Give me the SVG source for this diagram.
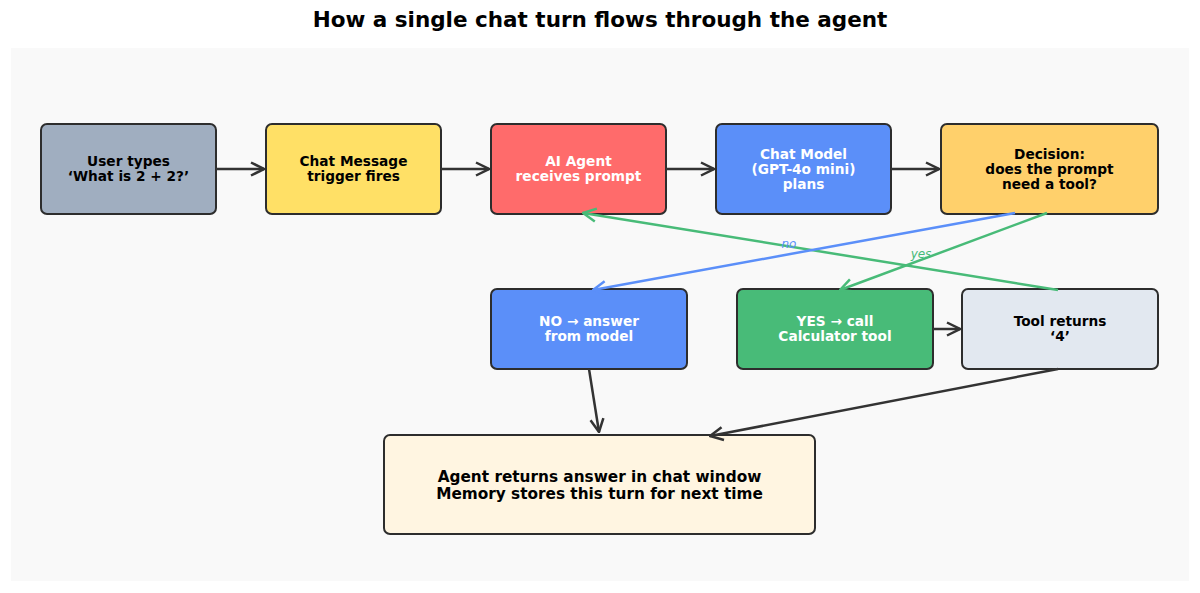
<svg xmlns="http://www.w3.org/2000/svg" width="1200" height="593" viewBox="0 0 1200 593">
<defs>
<style>
.box{stroke:#2d2d2d;stroke-width:2}
.t{font-family:"DejaVu Sans",sans-serif;font-weight:bold;font-size:13.7px;text-anchor:middle}
.big{font-size:15.3px}
.w{fill:#ffffff}
.k{fill:#000000}
.c{fill:none;stroke-width:2.5}
.dark{stroke:#333333}
.blue{stroke:#5b8ff9}
.green{stroke:#48bb78}
.lbl{font-family:"DejaVu Sans",sans-serif;font-style:italic;font-size:12px;text-anchor:middle}
</style>
<marker id="ad" viewBox="0 0 16 16" refX="15" refY="8" markerWidth="16" markerHeight="16" markerUnits="userSpaceOnUse" orient="auto"><path d="M2,1.5 L15,8 L2,14.5" fill="none" stroke="#333333" stroke-width="2.5"/></marker>
<marker id="ab" viewBox="0 0 16 16" refX="15" refY="8" markerWidth="16" markerHeight="16" markerUnits="userSpaceOnUse" orient="auto"><path d="M2,1.5 L15,8 L2,14.5" fill="none" stroke="#5b8ff9" stroke-width="2.5"/></marker>
<marker id="ag" viewBox="0 0 16 16" refX="15" refY="8" markerWidth="16" markerHeight="16" markerUnits="userSpaceOnUse" orient="auto"><path d="M2,1.5 L15,8 L2,14.5" fill="none" stroke="#48bb78" stroke-width="2.5"/></marker>
</defs>
<rect x="0" y="0" width="1200" height="593" fill="#ffffff"/>
<text x="600" y="27" font-family="DejaVu Sans, sans-serif" font-weight="bold" font-size="21.5" text-anchor="middle">How a single chat turn flows through the agent</text>
<rect x="11" y="48" width="1178" height="533" fill="#f9f9f9"/>

<g id="user">
<rect class="box" x="41" y="124" width="175" height="90" rx="6" fill="#a0aec0"/>
<text class="t k" x="128.5" y="166">User types</text>
<text class="t k" x="128.5" y="181">‘What is 2 + 2?’</text>
</g>
<g id="trigger">
<rect class="box" x="266" y="124" width="175" height="90" rx="6" fill="#ffe066"/>
<text class="t k" x="353.5" y="166">Chat Message</text>
<text class="t k" x="353.5" y="181">trigger fires</text>
</g>
<g id="agent">
<rect class="box" x="491" y="124" width="175" height="90" rx="6" fill="#ff6b6b"/>
<text class="t w" x="578.5" y="166">AI Agent</text>
<text class="t w" x="578.5" y="181">receives prompt</text>
</g>
<g id="model">
<rect class="box" x="716" y="124" width="175" height="90" rx="6" fill="#5b8ff9"/>
<text class="t w" x="803.5" y="159">Chat Model</text>
<text class="t w" x="803.5" y="174">(GPT-4o mini)</text>
<text class="t w" x="803.5" y="189">plans</text>
</g>
<g id="decision">
<rect class="box" x="941" y="124" width="217" height="90" rx="6" fill="#ffd06b"/>
<text class="t k" x="1049.5" y="159">Decision:</text>
<text class="t k" x="1049.5" y="174">does the prompt</text>
<text class="t k" x="1049.5" y="189">need a tool?</text>
</g>
<g id="no">
<rect class="box" x="491" y="289" width="196" height="80" rx="6" fill="#5b8ff9"/>
<text class="t w" x="589" y="326">NO → answer</text>
<text class="t w" x="589" y="341">from model</text>
</g>
<g id="yes">
<rect class="box" x="737" y="289" width="196" height="80" rx="6" fill="#48bb78"/>
<text class="t w" x="835" y="326">YES → call</text>
<text class="t w" x="835" y="341">Calculator tool</text>
</g>
<g id="tool">
<rect class="box" x="962" y="289" width="196" height="80" rx="6" fill="#e2e8f0"/>
<text class="t k" x="1060" y="326">Tool returns</text>
<text class="t k" x="1060" y="341">‘4’</text>
</g>
<g id="result">
<rect class="box" x="384" y="435" width="431" height="99" rx="6" fill="#fff5e1"/>
<text class="t k big" x="599.5" y="482">Agent returns answer in chat window</text>
<text class="t k big" x="599.5" y="498.5">Memory stores this turn for next time</text>
</g>

<g id="connectors">
<line class="c dark" x1="216" y1="169" x2="264" y2="169" marker-end="url(#ad)"/>
<line class="c dark" x1="441" y1="169" x2="489" y2="169" marker-end="url(#ad)"/>
<line class="c dark" x1="666" y1="169" x2="714" y2="169" marker-end="url(#ad)"/>
<line class="c dark" x1="891" y1="169" x2="939" y2="169" marker-end="url(#ad)"/>
<line class="c green" x1="1058" y1="290" x2="583" y2="213" marker-end="url(#ag)"/>
<line class="c blue" x1="1015" y1="213" x2="593" y2="290" marker-end="url(#ab)"/>
<line class="c green" x1="1047" y1="213" x2="840" y2="290" marker-end="url(#ag)"/>
<line class="c dark" x1="933" y1="329" x2="960" y2="329" marker-end="url(#ad)"/>
<line class="c dark" x1="589" y1="369" x2="599" y2="432" marker-end="url(#ad)"/>
<line class="c dark" x1="1058" y1="369" x2="710" y2="436" marker-end="url(#ad)"/>
<text class="lbl" x="789" y="248" fill="#5b8ff9">no</text>
<text class="lbl" x="921" y="258" fill="#48bb78">yes</text>
</g>
</svg>
